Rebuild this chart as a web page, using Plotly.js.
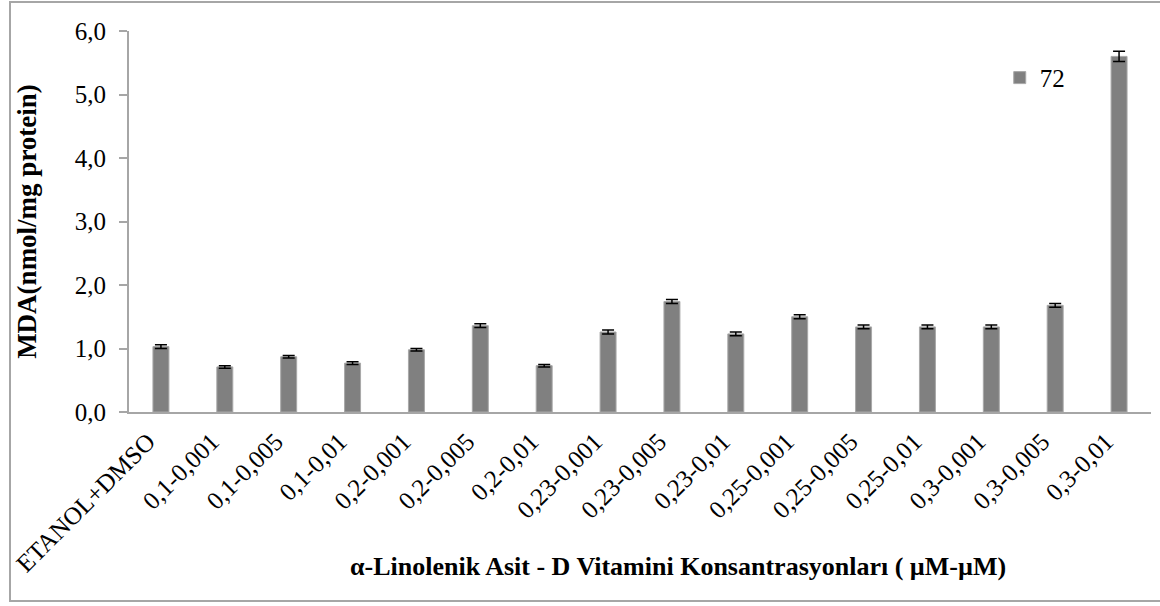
<!DOCTYPE html>
<html>
<head>
<meta charset="utf-8">
<script src="https://cdn.plot.ly/plotly-3.0.1.min.js"></script>
<style>
  html, body { margin: 0; padding: 0; background: #fff; }
  #chart { width: 1160px; height: 606px; }
  #frame { position: absolute; left: 9px; top: 1px; width: 1160px; height: 601px;
           border: 2px solid #a6a6a6; pointer-events: none; box-sizing: border-box; }
</style>
</head>
<body>
<div id="chart"></div>
<div id="frame"></div>
<script>
const categories = ["ETANOL+DMSO", "0,1-0,001", "0,1-0,005", "0,1-0,01", "0,2-0,001", "0,2-0,005",
  "0,2-0,01", "0,23-0,001", "0,23-0,005", "0,23-0,01", "0,25-0,001", "0,25-0,005",
  "0,25-0,01", "0,3-0,001", "0,3-0,005", "0,3-0,01"];
const values72 = [1.03, 0.71, 0.87, 0.77, 0.98, 1.36, 0.73, 1.26, 1.74, 1.23, 1.50, 1.34, 1.34, 1.34, 1.68, 5.60];
const errors72 = [0.03, 0.02, 0.02, 0.02, 0.02, 0.03, 0.02, 0.03, 0.03, 0.03, 0.03, 0.03, 0.03, 0.03, 0.03, 0.08];
const yTicks = [0, 1, 2, 3, 4, 5, 6];
const seriesName = "72";

const serif = "'Liberation Serif', 'Times New Roman', serif";

const trace = {
  type: "bar",
  name: seriesName,
  x: categories,
  y: values72,
  marker: { color: "#808080", line: { color: "#a8a8a8", width: 1 } },
  error_y: { type: "data", array: errors72, visible: true, color: "#000000", thickness: 1.5, width: 6 },
  showlegend: true
};

const layout = {
  width: 1160, height: 606,
  margin: { l: 129, r: 9, t: 31, b: 194 },
  paper_bgcolor: "#ffffff", plot_bgcolor: "#ffffff",
  separators: ",.",
  bargap: 0.75,
  font: { family: serif, color: "#000000" },
  showlegend: true,
  legend: {
    x: 0.852, y: 0.877, xanchor: "left", yanchor: "middle",
    font: { family: serif, size: 25, color: "#000" },
    bgcolor: "rgba(0,0,0,0)", itemwidth: 30
  },
  xaxis: {
    type: "category",
    tickangle: -45,
    tickfont: { family: serif, size: 25, color: "#000" },
    ticklabelshift: -13,
    ticklabelstandoff: 3,
    showline: true, linecolor: "#a6a6a6", linewidth: 2,
    ticks: "", showgrid: false, zeroline: false, automargin: false
  },
  yaxis: {
    range: [0, 6],
    tickvals: yTicks,
    tickformat: ".1f",
    tickfont: { family: serif, size: 25, color: "#000" },
    ticklabelstandoff: 8,
    showline: true, linecolor: "#a6a6a6", linewidth: 2,
    ticks: "outside", ticklen: 8, tickcolor: "#a6a6a6", tickwidth: 2,
    showgrid: false, zeroline: false, automargin: false,
    title: { text: "<b>MDA(nmol/mg protein)</b>", font: { family: serif, size: 27, color: "#000" }, standoff: 30 }
  },
  annotations: [{
    text: "<b>α-Linolenik Asit - D Vitamini Konsantrasyonları ( µM-µM)</b>",
    xref: "paper", yref: "paper", x: 0.537, y: -0.405, xanchor: "center", yanchor: "middle",
    showarrow: false, font: { family: serif, size: 26, color: "#000" }
  }]
};

Plotly.newPlot("chart", [trace], layout, { displayModeBar: false, staticPlot: true });
</script>
</body>
</html>
